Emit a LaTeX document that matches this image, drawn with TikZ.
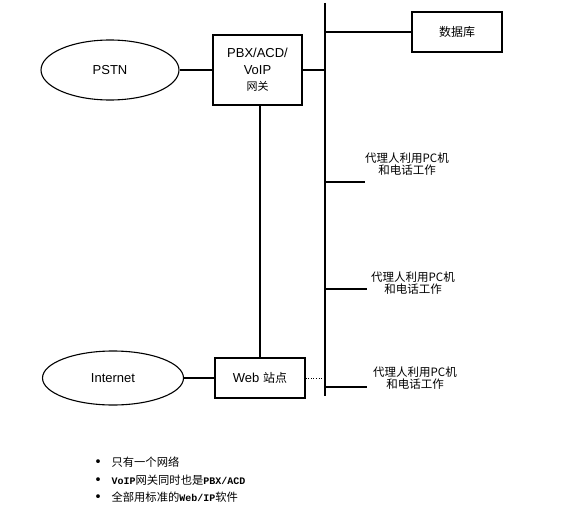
\documentclass[tikz,border=0pt]{standalone}
\usepackage{fontspec}
\setmainfont{Liberation Sans}
\newfontfamily\cjk{Noto Sans CJK SC}
\newfontfamily\latmono{Liberation Mono}
\usetikzlibrary{shapes.geometric}
\newcommand{\blt}{\makebox[22pt][l]{\smash{\fontsize{18}{13}\selectfont\raisebox{-2.2pt}{•}}}}

\begin{document}
\begin{tikzpicture}[x=1pt, y=-1pt, line width=1.1pt,
    net/.style={draw, ellipse, inner sep=0pt, font=\fontsize{13}{15}\selectfont},
    unit/.style={draw, rectangle, inner sep=0pt, align=center, font=\fontsize{13}{17}\selectfont},
    agent/.style={align=center, inner sep=0pt, font=\cjk\fontsize{11.5}{12}\selectfont},
    note/.style={anchor=west, inner sep=0pt, font=\cjk\fontsize{11.3}{13}\selectfont}]
				\useasboundingbox (0,0) rectangle (588,513);
				% networks and servers
				\node[net, minimum width=138pt, minimum height=60pt] (PSTN)at(110, 70) {PSTN};
				\node[net, minimum width=141pt, minimum height=54pt] (Inet)at(113, 378) {Internet};
				\node[unit, minimum width=89pt, minimum height=70pt] (PBX)at(257.5, 70) {PBX/ACD/\\VoIP\\[-1pt]{\cjk\fontsize{11}{13}\selectfont 网关}};
				\node[unit, minimum width=90pt, minimum height=40pt] (Web)at(260, 378) {Web {\cjk\fontsize{12}{13}\selectfont 站点}};
				\node[unit, minimum width=90pt, minimum height=40pt, font=\cjk\fontsize{12}{13}\selectfont] (DB)at(457, 32) {数据库};
				% LAN bus
				\coordinate (BusT)at(325, 3);
				\coordinate (BusB)at(325, 396);
				\draw (BusT) -- (BusB);
				% agents
				\node[agent] (AG1)at(407, 164) {代理人利用PC机\\和电话工作};
				\node[agent] (AG2)at(413, 283) {代理人利用PC机\\和电话工作};
				\node[agent] (AG3)at(415, 378) {代理人利用PC机\\和电话工作};
				\coordinate (E1)at(365, 182);
				\coordinate (E2)at(367, 289);
				\coordinate (E3)at(367, 387);
				\draw (E1 -| BusT) -- (E1);
				\draw (E2 -| BusT) -- (E2);
				\draw (E3 -| BusT) -- (E3);
				% links
				\draw (PSTN) -- (PBX);
				\draw (PBX.east) -- (PBX.east -| BusT);
				\draw (DB.west) -- (DB.west -| BusT);
				\draw (Web.north) -- (Web.north |- PBX.south);
				\draw (Inet) -- (Web);
				\draw[dotted, line width=0.6pt] (Web.east) -- (Web.east -| BusT);
				% notes
				\node[note] (N1)at(89, 462) {\blt 只有一个网络};
				\node[note] (N2)at(89, 480) {\blt{\latmono\bfseries\fontsize{10}{13}\selectfont VoIP}网关同时也是{\latmono\bfseries\fontsize{10}{13}\selectfont PBX/ACD}};
				\node[note] (N3)at(89, 497) {\blt 全部用标准的{\latmono\bfseries\fontsize{10}{13}\selectfont Web/IP}软件};
			\end{tikzpicture}
\end{document}
